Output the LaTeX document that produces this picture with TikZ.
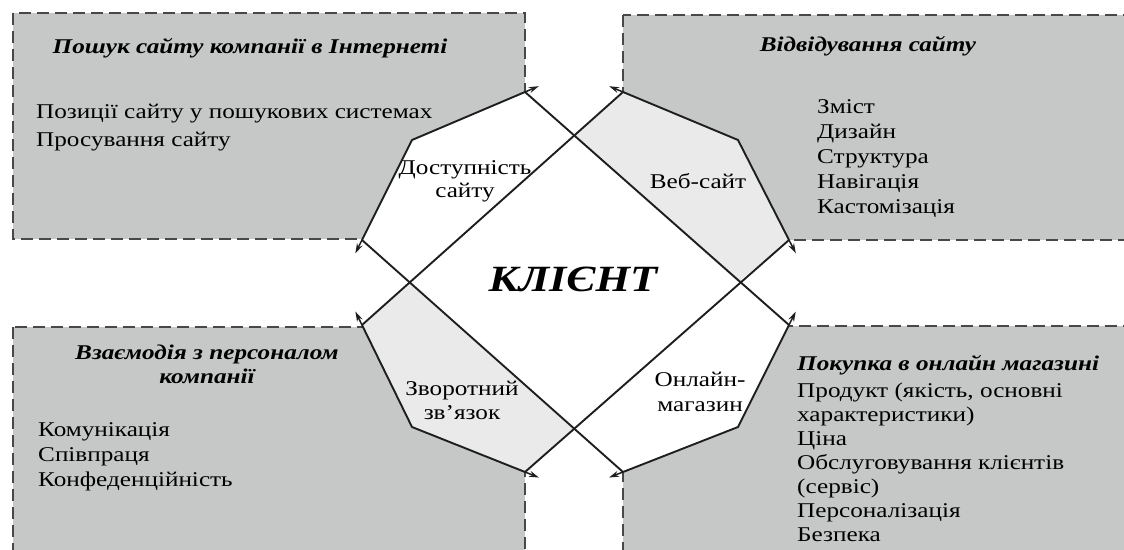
\documentclass[tikz,border=0pt]{standalone}
\usepackage{fontspec}
\setmainfont{Liberation Serif}[FakeStretch=1.2]
\usetikzlibrary{calc,arrows.meta}

\definecolor{boxgray}{RGB}{198,199,199}
\definecolor{petalgray}{RGB}{234,234,234}
\definecolor{dashgray}{RGB}{72,72,72}
\definecolor{inkgray}{RGB}{30,30,30}

\begin{document}
\begin{tikzpicture}[x=1pt,y=-1pt,
  zone/.style={fill=boxgray, draw=dashgray, line width=1.9pt, dash pattern=on 12pt off 6pt},
  band/.style={draw=inkgray, line width=1.9pt, line join=round},
  barb/.style={draw=inkgray, line width=1.5pt, -{Stealth[length=10pt,width=6pt]}},
  title/.style={font=\fontsize{21}{25}\selectfont\bfseries\itshape, inner sep=0pt, anchor=base},
  point/.style={font=\fontsize{21}{25}\selectfont, inner sep=0pt, anchor=base west},
  petal/.style={font=\fontsize{21}{25}\selectfont, inner sep=0pt, anchor=base}]
\clip (0,0) rectangle (1124,549);

\draw [zone] (13,13) rectangle (525,239);
\draw [zone] (623,15) rectangle (1140,240);
\draw [zone] (13,327) rectangle (525,560);
\draw [zone] (623,326) rectangle (1140,560);

\coordinate (tlA) at (525,92);  \coordinate (tlV) at (412,140); \coordinate (tlB) at (362,240);
\coordinate (trA) at (623,92);  \coordinate (trV) at (738,140); \coordinate (trB) at (789,240);
\coordinate (blA) at (362,325); \coordinate (blV) at (412,427); \coordinate (blB) at (525,472);
\coordinate (brA) at (789,325); \coordinate (brV) at (738,427); \coordinate (brB) at (623,472);
\coordinate (top) at (574,135.5); \coordinate (left) at (410,282);
\coordinate (bot) at (574,429);   \coordinate (right) at (738,282);

\fill [white] (tlA)--(tlV)--(tlB)--(blA)--(blV)--(blB)--(brB)--(brV)--(brA)--(trB)--(trV)--(trA)--cycle;
\fill [petalgray] (trA)--(top)--(right)--(trB)--(trV)--cycle;
\fill [petalgray] (blA)--(left)--(bot)--(blB)--(blV)--cycle;

\draw [band] (tlA) -- (brA);
\draw [band] (tlB) -- (brB);
\draw [band] (trA) -- (blA);
\draw [band] (trB) -- (blB);
\draw [band] (tlA) -- (tlV) -- (tlB);
\draw [band] (trA) -- (trV) -- (trB);
\draw [band] (blA) -- (blV) -- (blB);
\draw [band] (brA) -- (brV) -- (brB);
\foreach \e/\v in {tlA/tlV,tlB/tlV,trA/trV,trB/trV,blA/blV,blB/blV,brA/brV,brB/brV}
  \draw [barb] (\e) -- ($(\e)!-15pt!(\v)$);

\node[title] (tlhead) at (250,53) {Пошук сайту компанії в Інтернеті};
\node[point] (tl1) at (36,118) {Позиції сайту у пошукових системах};
\node[point] (tl2) at (36,146) {Просування сайту};

\node[title] (trhead) at (868,51) {Відвідування сайту};
\node[point] (tr1) at (817,113) {Зміст};
\node[point] (tr2) at (817,138) {Дизайн};
\node[point] (tr3) at (817,163) {Структура};
\node[point] (tr4) at (817,188) {Навігація};
\node[point] (tr5) at (817,213) {Кастомізація};

\node[title] (blhead1) at (207,359) {Взаємодія з персоналом};
\node[title] (blhead2) at (207,383) {компанії};
\node[point] (bl1) at (38,436) {Комунікація};
\node[point] (bl2) at (38,461) {Співпраця};
\node[point] (bl3) at (38,486) {Конфеденційність};

\node[title, anchor=base west] (brhead) at (797,370) {Покупка в онлайн магазині};
\node[point] (br1) at (797,397) {Продукт (якість, основні};
\node[point] (br2) at (797,421) {характеристики)};
\node[point] (br3) at (797,445) {Ціна};
\node[point] (br4) at (797,469) {Обслуговування клієнтів};
\node[point] (br5) at (797,493) {(сервіс)};
\node[point] (br6) at (797,517) {Персоналізація};
\node[point] (br7) at (797,541) {Безпека};

\node[petal] (access1) at (465,174) {Доступність};
\node[petal] (access2) at (465,197) {сайту};
\node[petal] (web) at (698,188) {Веб-сайт};
\node[petal] (back1) at (462,395) {Зворотний};
\node[petal] (back2) at (462,419) {зв’язок};
\node[petal] (shop1) at (700,386) {Онлайн-};
\node[petal] (shop2) at (700,411) {магазин};

\node[font=\fontsize{37}{42}\selectfont\bfseries\itshape, inner sep=0pt] (client) at (573,279) {КЛІЄНТ};
\end{tikzpicture}
\end{document}
